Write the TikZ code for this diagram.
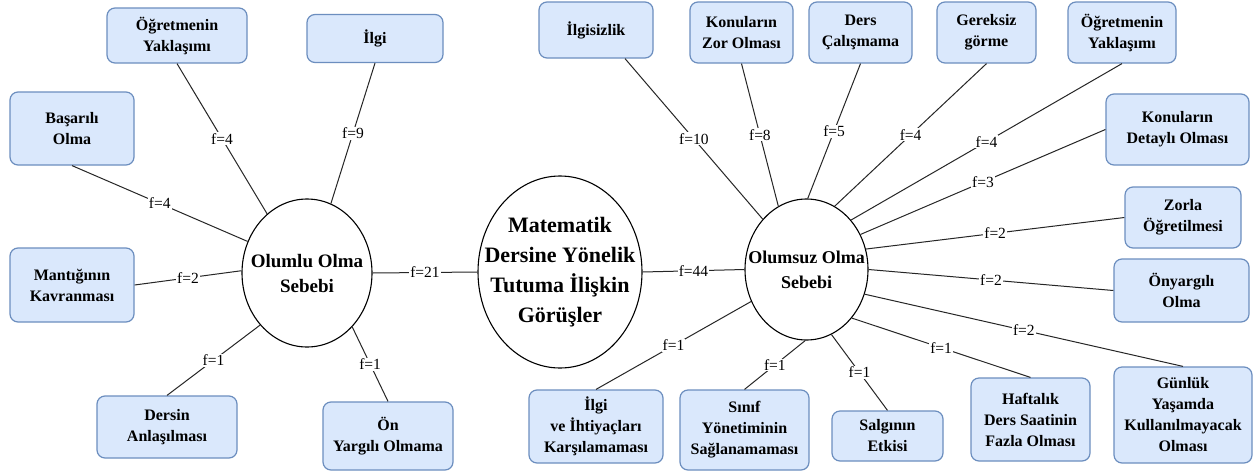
\documentclass[tikz,border=0pt]{standalone}
\usepackage{fontspec}
\setmainfont{Liberation Serif}
\usetikzlibrary{shapes.geometric}
\definecolor{boxfill}{HTML}{DAE8FC}
\definecolor{boxdraw}{HTML}{6C8EBF}
\begin{document}
\begin{tikzpicture}[x=1pt,y=-1pt,
 box/.style={draw=boxdraw, fill=boxfill, line width=1.2pt, rounded corners=8pt, align=center, font=\fontsize{16}{21}\selectfont\bfseries, inner sep=0pt},
 oval/.style={draw=black, ellipse, line width=1.1pt, inner sep=0pt},
 conn/.style={draw=black!85, line width=1pt},
 lbl/.style={fill=white, inner sep=1pt, font=\fontsize{15.5}{16}\selectfont, midway}]
\fill[white] (0,0) rectangle (1256,472);
\useasboundingbox (0,0) rectangle (1256,472);
% left boxes
\node[box, minimum width=140pt, minimum height=55pt] (oyL) at (177,35.5) {Öğretmenin\\Yaklaşımı};
\node[box, minimum width=136pt, minimum height=48pt] (ilgi) at (375,38.5) {İlgi};
\node[box, minimum width=124pt, minimum height=73pt] (basarili) at (72,128.5) {Başarılı\\Olma};
\node[box, minimum width=124pt, minimum height=74pt] (mantik) at (72,285) {Mantığının\\Kavranması};
\node[box, minimum width=140pt, minimum height=62pt] (dersin) at (167,427) {Dersin\\Anlaşılması};
\node[box, minimum width=130pt, minimum height=68pt] (on) at (388,436) {Ön\\Yargılı Olmama};
% right boxes
\node[box, minimum width=114pt, minimum height=56pt] (ilgisizlik) at (596,30) {İlgisizlik};
\node[box, minimum width=103pt, minimum height=61pt] (zor) at (741.5,32.5) {Konuların\\Zor Olması};
\node[box, minimum width=103pt, minimum height=61pt] (calisma) at (860.5,32.5) {Ders\\Çalışmama};
\node[box, minimum width=99pt, minimum height=61pt] (gereksiz) at (986.5,32.5) {Gereksiz\\görme};
\node[box, minimum width=108pt, minimum height=61pt] (oyR) at (1122,32.5) {Öğretmenin\\Yaklaşımı};
\node[box, minimum width=143pt, minimum height=71pt] (detayli) at (1177.5,129.5) {Konuların\\Detaylı Olması};
\node[box, minimum width=116pt, minimum height=61pt] (zorla) at (1183,217.5) {Zorla\\Öğretilmesi};
\node[box, minimum width=135pt, minimum height=63pt] (onyargili) at (1181.5,290.5) {Önyargılı\\Olma};
\node[box, minimum width=138pt, minimum height=96pt] (gunluk) at (1183,415) {Günlük\\Yaşamda\\Kullanılmayacak\\Olması};
\node[box, minimum width=119pt, minimum height=83pt] (haftalik) at (1030.5,419.5) {Haftalık\\Ders Saatinin\\Fazla Olması};
\node[box, minimum width=111pt, minimum height=50pt] (salgin) at (887.5,436) {Salgının\\Etkisi};
\node[box, minimum width=129pt, minimum height=80pt] (sinif) at (744.5,430) {Sınıf\\Yönetiminin\\Sağlanamaması};
\node[box, minimum width=134pt, minimum height=73pt] (ilgive) at (596,426.5) {İlgi\\ve İhtiyaçları\\Karşılamaması};
% ellipses
\node[oval, minimum width=130pt, minimum height=148pt,
  label={[align=center,font=\fontsize{19}{25}\selectfont\bfseries]center:{Olumlu Olma\\Sebebi}}] (olumlu) at (307,273) {};
\node[oval, minimum width=164pt, minimum height=192pt,
  label={[align=center,font=\fontsize{22}{30}\selectfont\bfseries]center:{Matematik\\Dersine Yönelik\\Tutuma İlişkin\\Görüşler}}] (center) at (560,272) {};
\node[oval, minimum width=123pt, minimum height=141pt,
  label={[align=center,font=\fontsize{18}{25}\selectfont\bfseries]center:{Olumsuz Olma\\Sebebi}}] (olumsuz) at (806.5,269.5) {};
% left connectors
\draw[conn] (oyL.south) -- node[lbl]{f=4} (olumlu.124);
\draw[conn] (ilgi.south) -- node[lbl]{f=9} (olumlu.71);
\draw[conn] (basarili.south) -- node[lbl]{f=4} (olumlu.152);
\draw[conn] (mantik.east) -- node[lbl]{f=2} (olumlu.178);
\draw[conn] (dersin.north) -- node[lbl]{f=1} (olumlu.228);
\draw[conn] (on.north) -- node[lbl]{f=1} (olumlu.310);
\draw[conn] (olumlu.east) -- node[lbl]{f=21} (center.west);
\draw[conn] (center.east) -- node[lbl]{f=44} (olumsuz.west);
% right connectors
\draw[conn] ([xshift=29pt]ilgisizlik.south) -- node[lbl]{f=10} (olumsuz.131);
\draw[conn] (zor.south) -- node[lbl]{f=8} (olumsuz.114);
\draw[conn] (calisma.south) -- node[lbl]{f=5} (olumsuz.89);
\draw[conn] (gereksiz.south) -- node[lbl]{f=4} (olumsuz.66);
\draw[conn] (oyR.south) -- node[lbl]{f=4} (olumsuz.48);
\draw[conn] (detayli.west) -- node[lbl]{f=3} (olumsuz.33);
\draw[conn] (zorla.west) -- node[lbl]{f=2} (olumsuz.19);
\draw[conn] (olumsuz.0) -- node[lbl]{f=2} (onyargili.west);
\draw[conn] (olumsuz.-23) -- node[lbl]{f=2} (gunluk.north);
\draw[conn] (olumsuz.-47) -- node[lbl]{f=1} (haftalik.north);
\draw[conn] (olumsuz.-69) -- node[lbl]{f=1} (salgin.north);
\draw[conn] (olumsuz.-91) -- node[lbl]{f=1} (sinif.north);
\draw[conn] (olumsuz.210) -- node[lbl]{f=1} (ilgive.north);
\end{tikzpicture}
\end{document}
